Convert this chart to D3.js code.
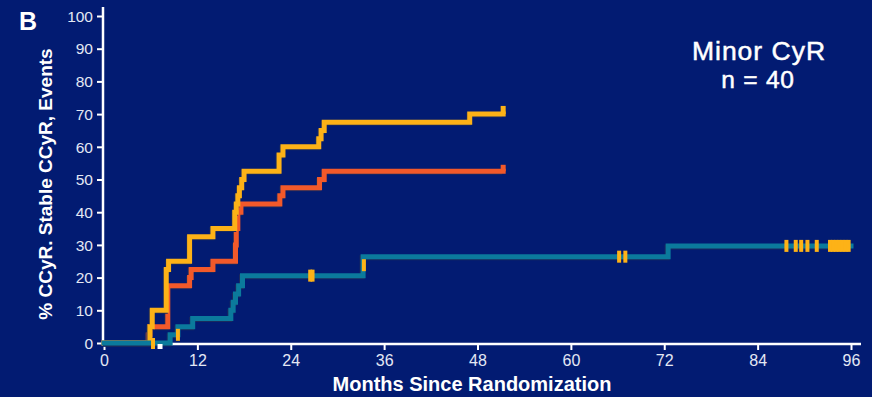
<!DOCTYPE html>
<html><head><meta charset="utf-8">
<script src="https://cdn.jsdelivr.net/npm/d3@7"></script>
<style>
html,body{margin:0;padding:0;background:#021b72;}
svg{display:block;}
</style></head>
<body>
<svg id="chart" width="872" height="397"></svg>
<script>
// ---- data ----
const xTicks = [0, 12, 24, 36, 48, 60, 72, 84, 96];
const yTicks = [0, 10, 20, 30, 40, 50, 60, 70, 80, 90, 100];
const seriesNames = ["Stable CCyR", "CCyR", "Events"];
// step curves: [month, percent]
const yellowSteps = [[0,0],[5.9,5],[6.2,10],[8.0,22.5],[8.3,25],[11.0,32.5],[14.0,35],[16.8,40],[17.0,42.5],[17.2,45],[17.4,47.5],[17.7,50],[18.0,52.5],[22.5,57.5],[23.0,60],[27.6,62.5],[27.9,65],[28.3,67.5],[47.0,70],[51.3,70]];
const orangeSteps = [[0,0],[5.7,2.5],[5.9,5],[8.2,17.5],[11.0,20],[11.2,22.5],[14.0,25],[16.9,30],[17.0,35],[17.2,40],[17.6,42.5],[22.6,45],[23.0,47.5],[27.7,50],[28.3,52.5],[51.3,52.5]];
const tealSteps = [[0,0],[8.5,2.5],[9.5,5],[11.4,7.5],[16.3,10],[16.6,12.5],[16.9,15],[17.3,17.5],[17.8,20.6],[33.3,26.4],[72.5,29.7],[96,29.7]];
// censor marks: [month, percent]
const tealCensor = [[9.5,2.5],[26.5,20.6],[26.8,20.6],[33.4,23.8],[66.2,26.4],[67.0,26.4],[87.7,29.7],[88.9,29.7],[89.6,29.7],[90.4,29.7],[91.6,29.7],[93.3,29.7],[93.7,29.7],[94.1,29.7],[94.5,29.7],[94.9,29.7],[95.3,29.7],[95.7,29.7]];
const endCensor = [[51.3,70,72.5],[51.3,52.5,54.5]];
const zeroCensor = [[6.3,0]];
const whiteCensor = [[7.2,0]];

// ---- scales ----
const svg = d3.select("#chart");
const x = d3.scaleLinear().domain([0,96]).range([104,851]);
const y = d3.scaleLinear().domain([0,100]).range([343,16]);

const COL = {yellow:"#fdb217", orange:"#f2592a", teal:"#0b7a9c", bg:"#021b72"};

// ---- axes ----
const axisG = svg.append("g");
axisG.append("line").attr("x1",103).attr("x2",103).attr("y1",7).attr("y2",345)
  .attr("stroke","#fff").attr("stroke-width",2.5);
axisG.append("line").attr("x1",102).attr("x2",861).attr("y1",344).attr("y2",344)
  .attr("stroke","#fff").attr("stroke-width",2.5);

const yAxis = d3.axisLeft(y).tickValues(yTicks).tickSize(6).tickPadding(4);
const gy = svg.append("g").attr("transform","translate(103,0)").call(yAxis);
gy.select(".domain").remove();
gy.selectAll(".tick line").attr("stroke","#fff").attr("stroke-width",2);
gy.selectAll(".tick text").attr("fill","#e4e8f4").attr("font-family","Liberation Sans, Arial, sans-serif").attr("font-size",15.5).attr("dy","0.34em");

const xAxis = d3.axisBottom(x).tickValues(xTicks).tickSize(6).tickPadding(4);
const gx = svg.append("g").attr("transform","translate(0,344)").call(xAxis);
gx.select(".domain").remove();
gx.selectAll(".tick line").attr("stroke","#fff").attr("stroke-width",2);
gx.selectAll(".tick text").attr("fill","#e4e8f4").attr("font-family","Liberation Sans Narrow, Arial Narrow, sans-serif").attr("font-size",16).attr("dy","0.72em");

// ---- curves ----
const line = d3.line().x(d=>x(d[0])).y(d=>y(d[1])).curve(d3.curveStepAfter);
function drawCurve(data, color){
  svg.append("path").datum(data).attr("d",line).attr("fill","none")
    .attr("stroke","#1a2a5e").attr("stroke-width",5).attr("transform","translate(-1,1)");
  svg.append("path").datum(data).attr("d",line).attr("fill","none")
    .attr("stroke",color).attr("stroke-width",5).attr("stroke-linejoin","miter").attr("stroke-linecap","square");
}
drawCurve(orangeSteps, COL.orange);
drawCurve(yellowSteps, COL.yellow);
drawCurve(tealSteps, COL.teal);

// end ticks of yellow / orange
svg.selectAll(".endc").data(endCensor).join("rect")
  .attr("x",d=>x(d[0])-2.5).attr("width",5)
  .attr("y",d=>y(d[2])).attr("height",d=>y(d[1])-y(d[2]))
  .attr("fill",(d,i)=>i===0?COL.yellow:COL.orange);

// censor marks
svg.selectAll(".tc").data(tealCensor).join("rect")
  .attr("x",d=>x(d[0])-2).attr("width",4)
  .attr("y",d=>y(d[1])-6).attr("height",12)
  .attr("fill",COL.yellow);
svg.selectAll(".zc").data(zeroCensor).join("rect")
  .attr("x",d=>x(d[0])-2).attr("width",4)
  .attr("y",d=>y(d[1])-5).attr("height",11)
  .attr("fill",COL.yellow);
svg.selectAll(".wc").data(whiteCensor).join("rect")
  .attr("x",d=>x(d[0])-2.5).attr("width",5)
  .attr("y",d=>y(d[1])+1).attr("height",5)
  .attr("fill","#fff");

// ---- text ----
svg.append("text").attr("x",28).attr("y",30).attr("text-anchor","middle")
  .attr("fill","#fff").attr("font-family","Liberation Sans, Arial, sans-serif")
  .attr("font-weight","bold").attr("font-size",25).text("B");
svg.append("text").attr("text-anchor","middle").attr("x",759).attr("y",60)
  .attr("fill","#fff").attr("stroke","#fff").attr("stroke-width",0.5)
  .attr("font-family","Liberation Sans, Arial, sans-serif")
  .attr("font-size",26.5).attr("letter-spacing",1).text("Minor CyR");
svg.append("text").attr("text-anchor","middle").attr("x",758).attr("y",88)
  .attr("fill","#fff").attr("stroke","#fff").attr("stroke-width",0.5)
  .attr("font-family","Liberation Sans, Arial, sans-serif")
  .attr("font-size",24.5).attr("letter-spacing",0.8).text("n = 40");
svg.append("text").attr("transform","translate(52,184) rotate(-90)").attr("text-anchor","middle")
  .attr("fill","#fff").attr("font-family","Liberation Sans, Arial, sans-serif")
  .attr("font-weight","bold").attr("font-size",19).text("% CCyR. Stable CCyR, Events");
svg.append("text").attr("x",472).attr("y",391).attr("text-anchor","middle")
  .attr("fill","#fff").attr("font-family","Liberation Sans Narrow, Arial Narrow, sans-serif")
  .attr("font-weight","bold").attr("font-size",20).text("Months Since Randomization");
</script>
</body></html>
